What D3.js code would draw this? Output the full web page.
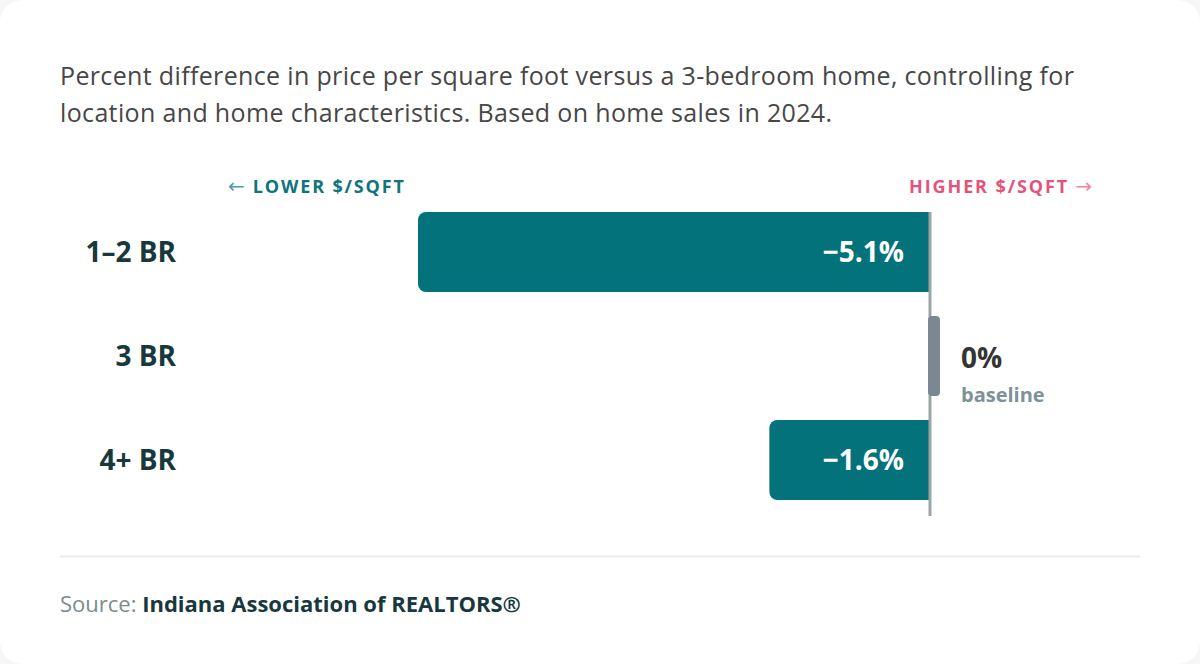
<!DOCTYPE html>
<html>
<head>
<meta charset="utf-8">
<script src="https://cdn.jsdelivr.net/npm/d3@7"></script>
<style>
html,body{margin:0;padding:0;background:#f6f6f6;}
svg{display:block;font-family:"Open Sans",sans-serif;}
</style>
</head>
<body>
<svg id="chart" width="1200" height="664"></svg>
<script>
const categories = ["1–2 BR", "3 BR", "4+ BR"];
const values = [-5.1, 0, -1.6];
const valueLabels = ["−5.1%", "0%", "−1.6%"];
const titleLines = [
  "Percent difference in price per square foot versus a 3-bedroom home, controlling for",
  "location and home characteristics. Based on home sales in 2024."
];
const lowerLabel = "LOWER $/SQFT";
const higherLabel = "HIGHER $/SQFT";
const baselineLabel = "baseline";
const sourceLabel = "Source:";
const sourceName = "Indiana Association of REALTORS®";

const svg = d3.select("#chart");
svg.append("rect").attr("x",0).attr("y",0).attr("width",1200).attr("height",664)
  .attr("rx",22).attr("fill","#ffffff");

// title
const title = svg.append("text").attr("fill","#474747").attr("font-size",25).attr("letter-spacing",0.35);
titleLines.forEach((t,i)=>{
  title.append("tspan").attr("x",60).attr("y",85 + i*36.5).text(t);
});

const x = d3.scaleLinear().domain([d3.min(values), 0]).range([418, 930]);
const y = d3.scaleBand().domain(categories).range([212, 500]).paddingInner(24/104).paddingOuter(0);
const bw = y.bandwidth();

// direction labels
const lo = svg.append("text").attr("x",228).attr("y",193).attr("font-size",18)
  .attr("font-weight",700).attr("letter-spacing",1.85).attr("fill","#0f747c");
lo.append("tspan").attr("font-weight",400).attr("font-family","DejaVu Sans").attr("font-size",20)
  .attr("letter-spacing",0).attr("fill","#4f9ea4").text("←");
lo.append("tspan").attr("dx",8).text(lowerLabel);
const hi = svg.append("text").attr("x",909).attr("y",193).attr("font-size",18)
  .attr("font-weight",700).attr("letter-spacing",1.9).attr("fill","#e5537b");
hi.append("tspan").text(higherLabel);
hi.append("tspan").attr("dx",6).attr("font-weight",400).attr("font-family","DejaVu Sans").attr("font-size",20)
  .attr("letter-spacing",0).attr("fill","#ee86a3").text("→");

// bars
const r = 8;
function barPath(v, cat){
  const x0 = x(0), x1 = x(v), y0 = y(cat), h = bw;
  const p = d3.path();
  p.moveTo(x0, y0);
  p.lineTo(x1 + r, y0);
  p.arcTo(x1, y0, x1, y0 + r, r);
  p.lineTo(x1, y0 + h - r);
  p.arcTo(x1, y0 + h, x1 + r, y0 + h, r);
  p.lineTo(x0, y0 + h);
  p.closePath();
  return p.toString();
}
const data = categories.map((c,i)=>({cat:c, v:values[i], label:valueLabels[i]}));

svg.selectAll("path.bar").data(data.filter(d=>d.v!==0)).join("path")
  .attr("class","bar").attr("d",d=>barPath(d.v,d.cat)).attr("fill","#03727a");

// zero line
svg.append("line").attr("x1",x(0)).attr("x2",x(0)).attr("y1",212).attr("y2",516)
  .attr("stroke","#9aa6a4").attr("stroke-width",3);

// baseline marker
data.filter(d=>d.v===0).forEach(d=>{
  svg.append("rect").attr("x",x(0)-2).attr("y",y(d.cat)).attr("width",12).attr("height",bw)
    .attr("rx",4).attr("fill","#7b8891");
  svg.append("text").attr("x",x(0)+31).attr("y",y(d.cat)+bw/2+12).attr("font-size",28)
    .attr("font-weight",700).attr("fill","#343434").text(d.label);
  svg.append("text").attr("x",x(0)+31).attr("y",y(d.cat)+bw/2+46).attr("font-size",20)
    .attr("font-weight",700).attr("fill","#7d9298").text(baselineLabel);
});

// value labels
svg.selectAll("text.val").data(data.filter(d=>d.v!==0)).join("text")
  .attr("class","val").attr("x",x(0)-26).attr("y",d=>y(d.cat)+bw/2+10)
  .attr("text-anchor","end").attr("font-size",28).attr("font-weight",700)
  .attr("fill","#ffffff").text(d=>d.label);

// category labels
svg.selectAll("text.cat").data(categories).join("text")
  .attr("class","cat").attr("x",176).attr("y",d=>y(d)+bw/2+10)
  .attr("text-anchor","end").attr("font-size",28).attr("font-weight",700)
  .attr("fill","#17383c").text(d=>d);

// separator
svg.append("line").attr("x1",60).attr("x2",1140).attr("y1",556.5).attr("y2",556.5)
  .attr("stroke","#ececec").attr("stroke-width",2);

// source
const src = svg.append("text").attr("x",60).attr("y",612).attr("font-size",22);
src.append("tspan").attr("fill","#7a8c8e").text(sourceLabel + " ");
src.append("tspan").attr("font-weight",700).attr("fill","#17383c").text(sourceName);
</script>
</body>
</html>
